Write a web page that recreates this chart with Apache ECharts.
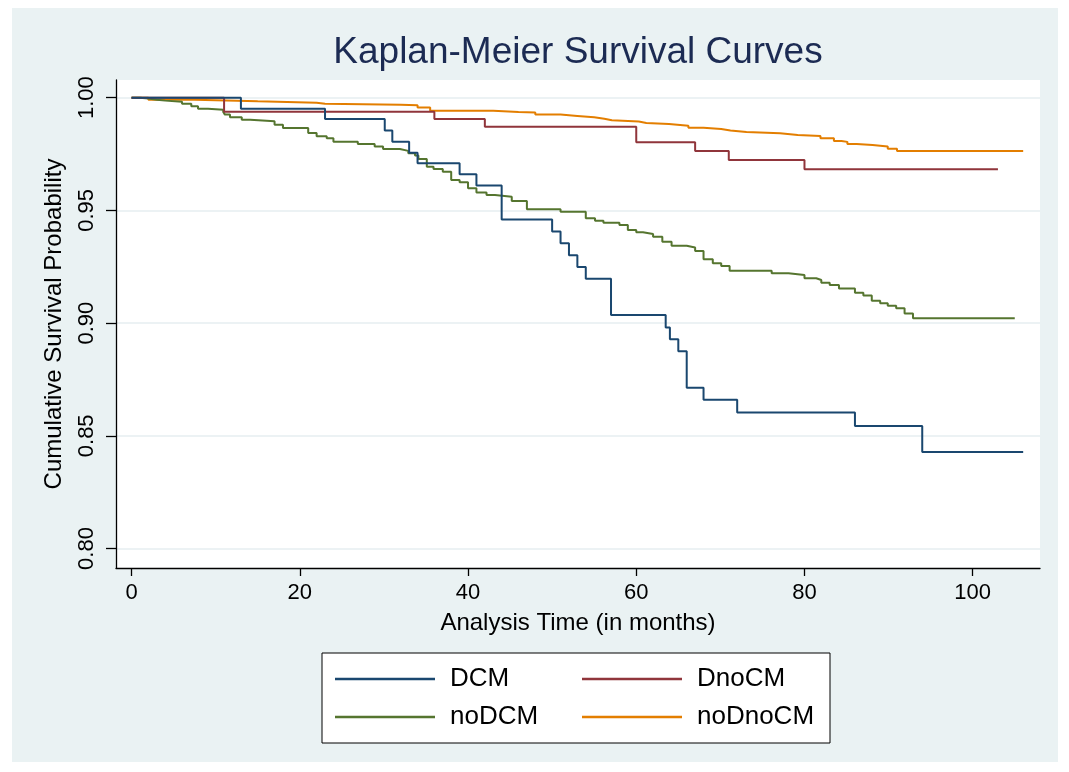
<!DOCTYPE html>
<html>
<head>
<meta charset="utf-8">
<script src="https://cdn.jsdelivr.net/npm/echarts@6/dist/echarts.min.js"></script>
<style>
  html, body { margin: 0; padding: 0; background: #ffffff; }
  #bg { position: absolute; left: 12px; top: 8px; width: 1046px; height: 754px; background: #EAF2F3; }
  #chart { position: absolute; left: 0; top: 0; width: 1069px; height: 772px; }
</style>
</head>
<body>
<div id="bg"></div>
<div id="chart"></div>
<script>
// ---- data (Kaplan-Meier step points) ----
const seriesNames = ['DCM', 'DnoCM', 'noDCM', 'noDnoCM'];

const dcmTime = [0, 13, 23, 30.1, 31, 33, 34, 39, 41, 44, 50, 51, 52, 53, 54, 57, 63.5, 64, 65, 66, 68, 72, 86, 94, 106];
const dcmSurv = [1, 0.9951, 0.9906, 0.9854, 0.9805, 0.9756, 0.9709, 0.9660, 0.9610, 0.9460, 0.9406, 0.9354, 0.9301, 0.9249, 0.9197, 0.9036, 0.8981, 0.8928, 0.8875, 0.8713, 0.8660, 0.8603, 0.8543, 0.8428, 0.8428];

const dnocmTime = [0, 11, 36, 42, 60, 67, 71, 80, 103];
const dnocmSurv = [1, 0.9938, 0.9906, 0.9871, 0.9802, 0.9764, 0.9724, 0.9682, 0.9682];

const nodcmTime = [0, 1, 2, 3, 4, 6, 7.1, 7.9, 9.1, 10.9, 11.1, 11.7, 13.1, 14.1, 17, 18, 21, 22, 23.2, 24, 26.9, 28.9, 29.9, 31.9, 32.9, 33.7, 34.1, 35.1, 35.9, 37, 38, 39, 40, 41, 42.2, 43.2, 45.2, 47, 51, 54, 55.1, 56.1, 58, 59, 60, 60.8, 62, 63.1, 64.2, 66, 67, 68, 69.1, 70.1, 71.1, 76.1, 78.1, 80, 81.4, 82, 83, 84.1, 86, 87, 88, 89, 89.9, 90.9, 91.9, 92.9, 105];
const nodcmSurv = [1, 0.9996, 0.9991, 0.9987, 0.9982, 0.9973, 0.9962, 0.9951, 0.9947, 0.9937, 0.9925, 0.9913, 0.9902, 0.9895, 0.9880, 0.9866, 0.9843, 0.9829, 0.9820, 0.9805, 0.9795, 0.9783, 0.9772, 0.9764, 0.9753, 0.9743, 0.9728, 0.9694, 0.9684, 0.9672, 0.9635, 0.9625, 0.9598, 0.9579, 0.9568, 0.9561, 0.9542, 0.9505, 0.9494, 0.9465, 0.9454, 0.9445, 0.9435, 0.9413, 0.9403, 0.9395, 0.9383, 0.9361, 0.9343, 0.9335, 0.9320, 0.9283, 0.9265, 0.9253, 0.9232, 0.9221, 0.9213, 0.9199, 0.9191, 0.9179, 0.9169, 0.9154, 0.9135, 0.9122, 0.9099, 0.9088, 0.9077, 0.9066, 0.9043, 0.9021, 0.9021];

const nodnocmTime = [0, 2, 7.5, 15, 22, 23, 32, 34, 35.5, 43, 46, 48, 51, 53, 55, 56.2, 57.1, 60.3, 61.2, 63.9, 66.2, 68, 70.1, 71.2, 73.1, 77.1, 79.2, 81.9, 83.5, 84.4, 85.1, 86.2, 88.1, 89.9, 91, 106];
const nodnocmSurv = [1, 0.9991, 0.9984, 0.9978, 0.9973, 0.9969, 0.9966, 0.9956, 0.9942, 0.9937, 0.9934, 0.9925, 0.9919, 0.9913, 0.9907, 0.9900, 0.9894, 0.9888, 0.9883, 0.9876, 0.9867, 0.9861, 0.9854, 0.9848, 0.9842, 0.9835, 0.9830, 0.9820, 0.9808, 0.9804, 0.9795, 0.9790, 0.9783, 0.9774, 0.9764, 0.9764];

const xTicks = [0, 20, 40, 60, 80, 100];
const yTicks = [0.80, 0.85, 0.90, 0.95, 1.00];

// ---- chart ----
const FONT = '"Liberation Sans", Arial, Helvetica, sans-serif';
const colors = ['#1A476F', '#90353B', '#55752F', '#E37E00'];
const times = [dcmTime, dnocmTime, nodcmTime, nodnocmTime];
const survs = [dcmSurv, dnocmSurv, nodcmSurv, nodnocmSurv];

function pairs(t, s) { return t.map((v, i) => [v, s[i]]); }

const chart = echarts.init(document.getElementById('chart'), null, { renderer: 'canvas' });
chart.setOption({
  animation: false,
  backgroundColor: 'transparent',
  color: colors,
  title: {
    text: 'Kaplan-Meier Survival Curves',
    left: 578, top: 34, textAlign: 'center', padding: 0,
    textStyle: { fontFamily: FONT, fontSize: 37, fontWeight: 'normal', color: '#1C2B53' }
  },
  grid: {
    left: 116, top: 80, right: 29, bottom: 204,
    show: true, backgroundColor: '#ffffff', borderWidth: 0
  },
  xAxis: {
    type: 'value', min: -1.85, max: 108,
    name: 'Analysis Time (in months)', nameLocation: 'middle', nameGap: 43,
    nameTextStyle: { fontFamily: FONT, fontSize: 24, color: '#000' },
    axisLine: { show: true, onZero: false, lineStyle: { color: '#000', width: 1.3 } },
    axisTick: { show: true, length: 8, customValues: xTicks, lineStyle: { color: '#000', width: 1.3 } },
    axisLabel: { customValues: xTicks, margin: 14, fontFamily: FONT, fontSize: 22, color: '#000' },
    splitLine: { show: false }
  },
  yAxis: {
    type: 'value', min: 0.79135, max: 1.00785,
    name: 'Cumulative Survival Probability', nameLocation: 'middle', nameRotate: 90, nameGap: 50,
    nameTextStyle: { fontFamily: FONT, fontSize: 24, color: '#000' },
    axisLine: { show: true, onZero: false, lineStyle: { color: '#000', width: 1.3 } },
    axisTick: { show: true, length: 10, customValues: yTicks, lineStyle: { color: '#000', width: 1.3 } },
    axisLabel: { customValues: yTicks, rotate: 90, margin: 18, fontFamily: FONT, fontSize: 22, color: '#000',
                 formatter: v => v.toFixed(2) },
    splitLine: { show: true, lineStyle: { color: '#E6EEF1', width: 1.5 } }
  },
  legend: {
    data: seriesNames,
    left: 322, top: 653, width: 484,
    padding: [13, 13, 13, 13],
    borderColor: '#000', borderWidth: 1, backgroundColor: '#fff',
    itemWidth: 100, itemHeight: 2.5, icon: 'rect', itemGap: 12,
    textStyle: { fontFamily: FONT, fontSize: 26, color: '#000', width: 120, padding: [0, 0, 0, 10], lineHeight: 25 }
  },
  series: seriesNames.map((name, i) => ({
    name: name, type: 'line', step: 'end',
    data: pairs(times[i], survs[i]),
    showSymbol: false, symbol: 'none',
    lineStyle: { width: 2, color: colors[i] },
    itemStyle: { color: colors[i] },
    z: 10 - i
  }))
});
</script>
</body>
</html>
